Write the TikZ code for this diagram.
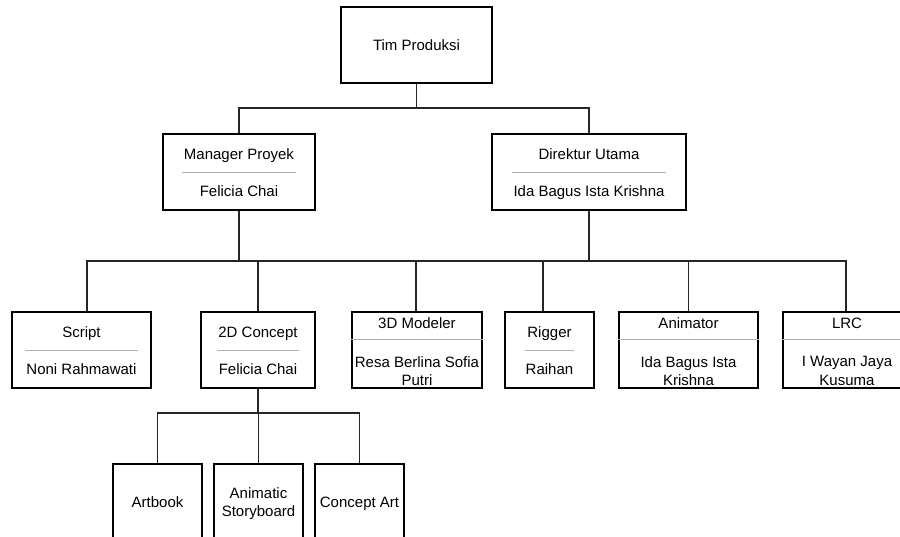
\documentclass[tikz,border=0pt]{standalone}
\usepackage{fontspec}
\setmainfont{Liberation Sans}
\usepackage{tikz}
\usetikzlibrary{positioning,calc}

\begin{document}
\begin{tikzpicture}[
  x=1pt, y=-1pt,
  font=\fontsize{15}{18.5}\selectfont,
  box/.style={draw,line width=1.1pt,minimum height=76pt,inner sep=0pt,align=center,text depth=0pt},
  lbl/.style={inner sep=0pt,text height=10.8pt,text depth=0pt},
  lbltwo/.style={inner sep=0pt,align=center},
  sep/.style={draw=black!30,line width=0.9pt},
  link/.style={draw=black!85,line width=1.1pt}
]
\useasboundingbox (0,0) rectangle (900,537);

% top
\node[box,minimum width=151pt] (tim) at (416.5,45) {Tim Produksi};

% second level
\node[box,minimum width=152pt] (mgr) at (239,172) {};
\node[box,minimum width=194pt] (dir) at (589,172) {};
\node[lbl] (mgrT) at ([yshift=18pt]mgr.center) {Manager Proyek};
\node[lbl] (mgrN) at ([yshift=-19pt]mgr.center) {Felicia Chai};
\node[lbl] (dirT) at ([yshift=18pt]dir.center) {Direktur Utama};
\node[lbl] (dirN) at ([yshift=-19pt]dir.center) {Ida Bagus Ista Krishna};

% team
\node[box,minimum width=139pt] (script)    at (81.5,350)  {};
\node[box,minimum width=114pt] (concept2d) at (258,350)   {};
\node[box,minimum width=130pt] (modeler)   at (417,350)   {};
\node[box,minimum width=89pt]  (rigger)    at (549.5,350) {};
\node[box,minimum width=139pt] (anim)      at (688.5,350) {};
\node[box,minimum width=128pt] (lrc)       at (847,350)   {};

\node[lbl] (scriptT) at ([yshift=18pt]script.center) {Script};
\node[lbl] (scriptN) at ([yshift=-19pt]script.center) {Noni Rahmawati};
\node[lbl] (conceptT) at ([yshift=18pt]concept2d.center) {2D Concept};
\node[lbl] (conceptN) at ([yshift=-19pt]concept2d.center) {Felicia Chai};
\node[lbl] (riggerT) at ([yshift=18pt]rigger.center) {Rigger};
\node[lbl] (riggerN) at ([yshift=-19pt]rigger.center) {Raihan};

\node[lbl] (modelerT) at ([yshift=27pt]modeler.center) {3D Modeler};
\node[lbltwo] (modelerN) at ([yshift=-21pt]modeler.center) {Resa Berlina Sofia\\Putri};
\node[lbl] (animT) at ([yshift=27pt]anim.center) {Animator};
\node[lbltwo] (animN) at ([yshift=-21pt]anim.center) {Ida Bagus Ista\\Krishna};
\node[lbl] (lrcT) at ([yshift=27pt]lrc.center) {LRC};
\node[lbltwo] (lrcN) at ([yshift=-21pt]lrc.center) {I Wayan Jaya\\Kusuma};

% 2D concept outputs
\node[box,minimum width=89pt] (artbook)    at (157.5,502) {Artbook};
\node[box,minimum width=89pt] (animatic)   at (258.5,502) {Animatic\\Storyboard};
\node[box,minimum width=89pt] (conceptart) at (359.5,502) {Concept Art};

% separators
\foreach \n/\a in {mgr/20,dir/21,script/14,concept2d/17,rigger/21}
  \draw[sep] ([xshift=\a pt]\n.west) -- ([xshift=-\a pt]\n.east);
\foreach \n in {modeler,anim,lrc}
  \draw[sep] ([yshift=10.5pt]\n.west) -- ([yshift=10.5pt]\n.east);

% connectors
\coordinate (bus1) at (416.5,108);
\coordinate (bus2) at (239,261);
\coordinate (bus3) at (258,413);
\draw[link] (tim.south) -- (bus1);
\draw[link] (bus1) -| (mgr.north);
\draw[link] (bus1) -| (dir.north);
\draw[link] (mgr.south) -- (bus2);
\draw[link] (dir.south) -- (dir.south |- bus2);
\foreach \n/\dx in {script/5.5,concept2d/0,modeler/-1,rigger/-6.5,anim/0,lrc/-1}
  \draw[link] (bus2) -| ([xshift=\dx pt]\n.north);
\draw[link] (concept2d.south) -- (bus3);
\foreach \n in {artbook,animatic,conceptart}
  \draw[link] (bus3) -| (\n.north);
\end{tikzpicture}
\end{document}
